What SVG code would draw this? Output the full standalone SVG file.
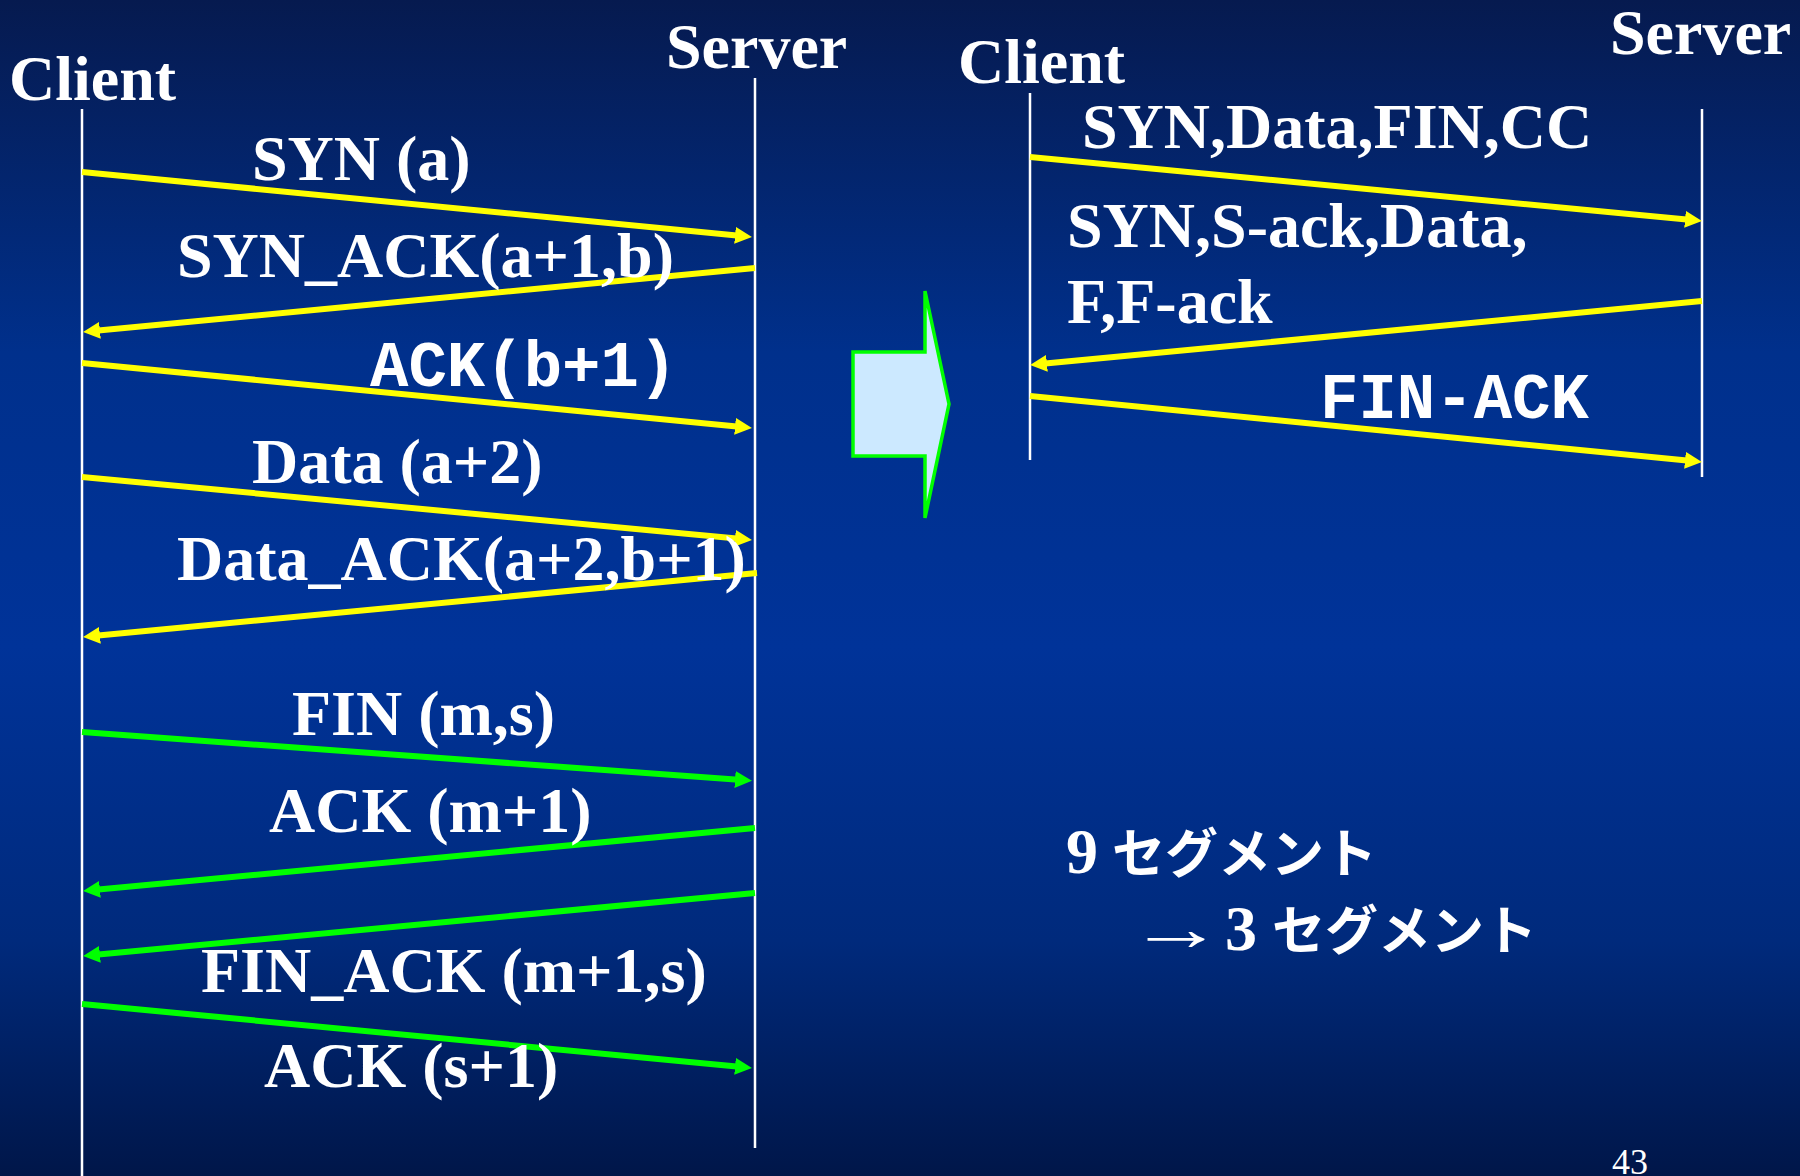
<svg xmlns="http://www.w3.org/2000/svg" width="1800" height="1176" viewBox="0 0 1800 1176">
<defs>
<linearGradient id="bg" x1="0" y1="0" x2="0" y2="1">
<stop offset="0" stop-color="#061a4f"/>
<stop offset="0.3" stop-color="#00308c"/>
<stop offset="0.55" stop-color="#003399"/>
<stop offset="0.8" stop-color="#002a7c"/>
<stop offset="1" stop-color="#001649"/>
</linearGradient>
<marker id="ay" markerUnits="userSpaceOnUse" markerWidth="17" markerHeight="17" refX="7" refY="8.5" orient="auto">
<path d="M0,0 L17,8.5 L0,17 z" fill="#ffff00"/>
</marker>
<marker id="ag" markerUnits="userSpaceOnUse" markerWidth="17" markerHeight="17" refX="7" refY="8.5" orient="auto">
<path d="M0,0 L17,8.5 L0,17 z" fill="#00ff00"/>
</marker>
</defs>
<style>
.lbl{font-family:"Liberation Serif","Times New Roman",serif;font-weight:bold;font-size:64px;fill:#ffffff}
.mono{font-family:"Liberation Mono","Courier New",monospace;font-weight:bold;font-size:64px;fill:#ffffff}
.jp{font-family:"Noto Sans CJK JP",sans-serif;font-weight:bold;font-size:53px;fill:#ffffff}
.life{stroke:#ffffff;stroke-width:2.5;fill:none}
.y{stroke:#ffff00;stroke-width:6;fill:none;marker-end:url(#ay)}
.g{stroke:#00ff00;stroke-width:6;fill:none;marker-end:url(#ag)}
</style>
<rect x="0" y="0" width="1800" height="1176" fill="url(#bg)"/>

<g id="client-left">
<text class="lbl" x="9" y="100">Client</text>
<line class="life" x1="82" y1="109" x2="82" y2="1176"/>
</g>
<g id="server-left">
<text class="lbl" x="666" y="68">Server</text>
<line class="life" x1="755" y1="78" x2="755" y2="1148"/>
</g>
<g id="client-right">
<text class="lbl" x="958" y="83">Client</text>
<line class="life" x1="1030" y1="93" x2="1030" y2="460"/>
</g>
<g id="server-right">
<text class="lbl" x="1610" y="54">Server</text>
<line class="life" x1="1702" y1="109" x2="1702" y2="477"/>
</g>

<g id="block-arrow">
<polygon points="853,352 925,352 925,291 949,404 925,518 925,456 853,456" fill="#cce9ff" stroke="#00ff00" stroke-width="3.5" stroke-linejoin="miter"/>
</g>

<g id="connectors">
<line class="y" x1="82" y1="172" x2="742" y2="236"/>
<line class="y" x1="755" y1="268" x2="93" y2="331"/>
<line class="y" x1="82" y1="363" x2="742" y2="427"/>
<line class="y" x1="82" y1="477" x2="742" y2="539"/>
<line class="y" x1="757" y1="573" x2="93" y2="636"/>
<line class="g" x1="82" y1="732" x2="742" y2="780"/>
<line class="g" x1="755" y1="828" x2="93" y2="890"/>
<line class="g" x1="755" y1="893" x2="93" y2="955"/>
<line class="g" x1="82" y1="1004" x2="742" y2="1067"/>
<line class="y" x1="1030" y1="157" x2="1692" y2="220"/>
<line class="y" x1="1702" y1="301" x2="1040" y2="364"/>
<line class="y" x1="1030" y1="396" x2="1692" y2="461"/>
</g>

<g id="labels">
<text class="lbl" x="252" y="180">SYN (a)</text>
<text class="lbl" x="177" y="277">SYN_ACK(a+1,b)</text>
<text class="mono" x="370" y="386">ACK(b+1)</text>
<text class="lbl" x="252" y="483">Data (a+2)</text>
<text class="lbl" x="177" y="580">Data_ACK(a+2,b+1)</text>
<text class="lbl" x="292" y="735">FIN (m,s)</text>
<text class="lbl" x="269" y="832">ACK (m+1)</text>
<text class="lbl" x="201" y="992">FIN_ACK (m+1,s)</text>
<text class="lbl" x="264" y="1087">ACK (s+1)</text>
<text class="lbl" x="1082" y="148">SYN,Data,FIN,CC</text>
<text class="lbl" x="1067" y="247">SYN,S-ack,Data,</text>
<text class="lbl" x="1067" y="323">F,F-ack</text>
<text class="mono" x="1320" y="418">FIN-ACK</text>
</g>

<g id="summary">
<text x="1066" y="873"><tspan class="lbl">9</tspan><tspan class="jp" x="1112">セグメント</tspan></text>
<text class="lbl" transform="translate(1128,950) scale(1.5,1)" x="0" y="0">→</text>
<text x="1225" y="950"><tspan class="lbl">3</tspan><tspan class="jp" x="1272">セグメント</tspan></text>
</g>

<text x="1612" y="1174" font-family="Liberation Serif, Times New Roman, serif" font-size="36" fill="#ffffff">43</text>
</svg>
